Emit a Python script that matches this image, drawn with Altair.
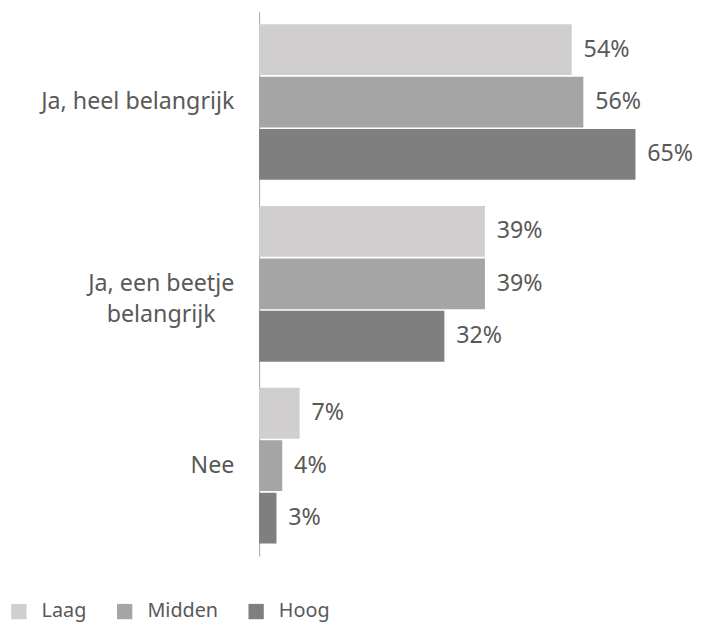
import altair as alt
import pandas as pd

categories = ["Ja, heel belangrijk", "Ja, een beetje belangrijk", "Nee"]
category_display = ["Ja, heel belangrijk", "Ja, een beetje\nbelangrijk", "Nee"]
groups = ["Laag", "Midden", "Hoog"]
laag = [54, 39, 7]
midden = [56, 39, 4]
hoog = [65, 32, 3]
colors = ["#D0CECE", "#A5A5A5", "#7F7F7F"]

rows = []
for g, vals in zip(groups, [laag, midden, hoog]):
    for c, v in zip(categories, vals):
        rows.append({"category": c, "group": g, "value": v, "label": f"{v}%"})
df = pd.DataFrame(rows)

lab_df = pd.DataFrame({"category": categories, "display": category_display})

FONT = "Noto Sans"
TXT = "#595959"

yscale = alt.Scale(domain=categories, paddingInner=0.144, paddingOuter=0.07)
yax = alt.Axis(labels=False, ticks=False, title=None, grid=False,
               domainColor="#A6A6A6", domainWidth=1)

base = alt.Chart(df).encode(
    y=alt.Y("category:N", scale=yscale, axis=yax),
    yOffset=alt.YOffset("group:N", scale=alt.Scale(domain=groups, paddingInner=0.03)),
    x=alt.X("value:Q", scale=alt.Scale(domain=[0, 70]), axis=None),
)

bars = base.mark_bar().encode(
    color=alt.Color(
        "group:N",
        scale=alt.Scale(domain=groups, range=colors),
        legend=alt.Legend(
            orient="none", legendX=-253, legendY=597, direction="horizontal",
            title=None, symbolType="square", symbolSize=240, symbolStrokeWidth=0,
            labelFontSize=20, labelFont=FONT, labelColor=TXT,
            labelOffset=13, columnPadding=28, padding=0,
        ),
    )
)

values = base.mark_text(align="left", baseline="middle", dx=12, fontSize=23.5,
                        font=FONT, color=TXT).encode(text="label:N")

single = alt.Chart(lab_df).transform_filter(
    alt.datum.category != categories[1]
).mark_text(align="right", baseline="middle", fontSize=23.5, font=FONT, color=TXT).encode(
    y=alt.Y("category:N", scale=yscale, axis=yax),
    x=alt.value(-25),
    text="display:N",
)

multi = alt.Chart(lab_df).transform_filter(
    alt.datum.category == categories[1]
).mark_text(align="center", baseline="middle", fontSize=23.5, font=FONT, color=TXT,
            lineBreak="\n", lineHeight=32).encode(
    y=alt.Y("category:N", scale=yscale, axis=yax),
    x=alt.value(-99),
    text="display:N",
)

chart = alt.layer(bars, values, single, multi).properties(
    width=410, height=551,
    padding={"left": 254, "top": 0, "right": 35, "bottom": 63},
    autosize=alt.AutoSizeParams(type="none"),
).configure_view(stroke=None)

chart.save("out.html", embed_options={"renderer": "svg", "actions": False})
